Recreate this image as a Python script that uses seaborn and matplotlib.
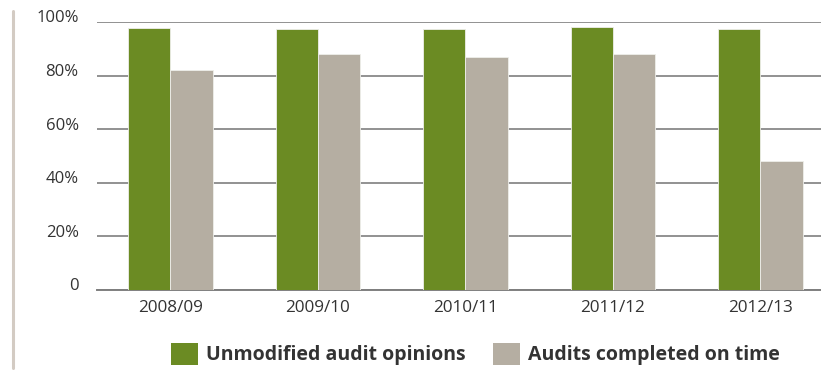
import matplotlib
matplotlib.use("Agg")
import matplotlib.pyplot as plt
import matplotlib.transforms as mtransforms
from matplotlib.lines import Line2D
from matplotlib.patches import Patch
import seaborn as sns
import pandas as pd

# Data
years = ["2008/09", "2009/10", "2010/11", "2011/12", "2012/13"]
unmodified_opinions = [97.6, 97.3, 97.3, 98.3, 97.3]
completed_on_time = [82.0, 88.1, 87.1, 88.1, 48.0]
series_names = ["Unmodified audit opinions", "Audits completed on time"]
y_ticks = [0, 20, 40, 60, 80, 100]
y_tick_labels = ["0", "20%", "40%", "60%", "80%", "100%"]

GREEN = "#6b8b23"
GREY = "#b5aea2"
TEXT = "#333333"
LINE = "#7f7f7f"

df = pd.DataFrame({
    "year": years * 2,
    "series": [series_names[0]] * len(years) + [series_names[1]] * len(years),
    "value": unmodified_opinions + completed_on_time,
})

sns.set_theme(style="white")
plt.rcParams["font.family"] = ["Open Sans", "DejaVu Sans"]

fig = plt.figure(figsize=(8.21, 3.70), dpi=100)
W, H = 821, 370
left, right, bottom, top = 96.7, 834.2, 290, 22
ax = fig.add_axes([left / W, (H - bottom) / H, (right - left) / W, (bottom - top) / H])

sns.barplot(data=df, x="year", y="value", hue="series", order=years,
            hue_order=series_names, palette=[GREEN, GREY], width=0.572,
            gap=0, edgecolor="#eeeeea", linewidth=0.6, saturation=1,
            legend=False, ax=ax, zorder=3)

ax.set_xlim(-0.5, len(years) - 0.5)
ax.set_ylim(0, 100)
ax.set_xlabel("")
ax.set_ylabel("")

# Horizontal gridlines
ax.set_yticks(y_ticks)
ax.set_yticklabels(y_tick_labels)
ax.yaxis.grid(True, color=LINE, linewidth=1.2, zorder=0)
ax.set_axisbelow(True)
ax.tick_params(axis="y", length=0, pad=13, labelsize=12, labelcolor=TEXT)
offset = mtransforms.ScaledTranslation(0, 4 / 72, fig.dpi_scale_trans)
for lab in ax.get_yticklabels():
    lab.set_transform(lab.get_transform() + offset)

# Category labels centred, tick marks between categories
ax.set_xticks(range(len(years)))
ax.set_xticklabels(years)
ax.tick_params(axis="x", which="major", length=0, pad=7, labelsize=12.3, labelcolor=TEXT)
ax.set_xticks([i - 0.5 for i in range(len(years) + 1)], minor=True)
ax.tick_params(axis="x", which="minor", length=5, width=1.2, color=LINE, direction="out")

for s in ["top", "right", "left"]:
    ax.spines[s].set_visible(False)
ax.spines["bottom"].set_color(LINE)
ax.spines["bottom"].set_linewidth(1.4)

# Vertical rule on the left edge
fig.add_artist(Line2D([12.5 / W, 12.5 / W], [(H - 11) / H, (H - 368) / H],
                      transform=fig.transFigure, color="#d3cbc3", linewidth=2.2))

handles = [Patch(facecolor=GREEN, edgecolor="none"), Patch(facecolor=GREY, edgecolor="none")]
fig.legend(handles, series_names, loc="center left",
           bbox_to_anchor=(171 / W, (H - 354) / H), ncol=2, frameon=False,
           prop={"family": ["Open Sans", "DejaVu Sans"], "weight": "bold", "size": 14},
           labelcolor=TEXT, handlelength=1.39, handleheight=1.39,
           handletextpad=0.42, columnspacing=1.4, borderaxespad=0, borderpad=0)

fig.savefig("out.png", dpi=100)
